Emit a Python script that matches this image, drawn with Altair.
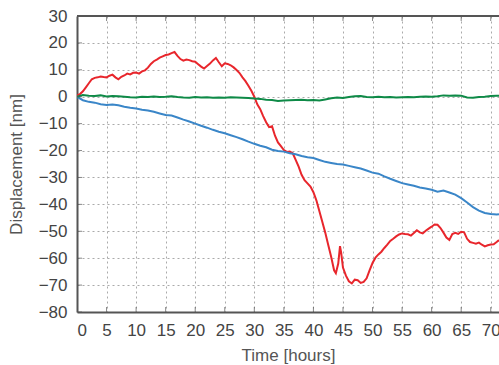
import altair as alt
import pandas as pd

red_t = [0, 0.5, 1, 1.5, 2, 2.5, 3, 3.5, 4, 4.5, 5, 5.5, 6, 6.5, 7, 7.5, 8, 8.5, 9, 9.5,
         10, 10.5, 11, 11.5, 12, 12.5, 13, 13.5, 14, 14.5, 15, 15.5, 16, 16.5, 17, 17.5, 18, 18.5, 19, 19.5,
         20, 20.5, 21, 21.5, 22, 22.5, 23, 23.5, 24, 24.5, 25, 25.5, 26, 26.5, 27, 27.5, 28, 28.5, 29, 29.5,
         30, 30.5, 31, 31.5, 32, 32.5, 33, 33.5, 34, 34.5, 35, 35.5, 36, 36.5, 37, 37.5, 38, 38.5, 39, 39.5,
         40, 40.5, 41, 41.5, 42, 42.5, 43, 43.5, 43.8, 44.2, 44.5, 44.7, 45, 45.5, 46, 46.5, 47, 47.5, 48, 48.5,
         49, 49.5, 50, 50.5, 51, 51.5, 52, 52.5, 53, 53.5, 54, 54.5, 55, 55.5, 56, 56.5, 57, 57.5, 58, 58.5,
         59, 59.5, 60, 60.5, 61, 61.5, 62, 62.5, 63, 63.5, 64, 64.5, 65, 65.5, 66, 66.5, 67, 67.5, 68, 68.5,
         69, 69.5, 70, 70.5, 71, 71.4]
red_v = [0.5, 1, 2, 3.5, 5, 6.5, 7, 7.2, 7.5, 7.3, 7.2, 7.8, 8.2, 7.2, 6.5, 7.4, 7.9, 8.6, 8.3, 8.9,
         9, 8.6, 9.4, 9.8, 10.8, 12.2, 13.2, 13.8, 14.5, 15, 15.5, 15.7, 16.2, 16.6, 15.2, 14, 13.4, 13.8, 13.6, 13.2,
         13, 12.1, 11.2, 10.5, 11.4, 12.3, 13.5, 14.4, 12.8, 11.3, 12.4, 12.2, 11.7, 10.9, 9.9, 8.8, 7.2, 5.8, 4.1, 2.2,
         0, -2.8, -4.6, -7.2, -9.5, -11.3, -11, -14.5, -17, -18.4, -19.8, -20.5, -20.4, -21, -23.5, -26, -29, -31, -32.2, -33.4,
         -35.5, -38.5, -42.5, -46.5, -50.5, -55, -59.5, -64.5, -65.6, -62, -55.5, -58, -63.5, -66.5, -68.6, -69.4, -68, -68.2, -69.2, -68.8,
         -67.5, -64.5, -61.8, -59.8, -58.6, -57.6, -56.2, -55, -53.6, -52.8, -51.9, -51.2, -50.8, -51, -51.1, -51.6, -50.6, -49.6, -50.4, -50.8,
         -49.8, -49, -48.3, -47.5, -47.6, -48.8, -50.5, -52.3, -53.2, -51, -50.6, -51, -50.2, -50.4, -52.8, -54, -54.3, -54.6, -54.2, -55,
         -55.6, -55.2, -54.9, -54.8, -54, -53.3]

blue_t = list(range(0, 72)) + [71.4]
blue_v = [0, -1.3, -1.9, -2.2, -2.8, -3.1, -2.9, -3.2, -3.7, -4.1,
          -4.4, -4.8, -5.1, -5.6, -6.2, -6.8, -7, -7.7, -8.5, -9.2,
          -10, -10.8, -11.5, -12.3, -13, -13.6, -14.3, -15, -15.8, -16.7,
          -17.5, -18.2, -18.8, -19.7, -20.2, -20.4, -21, -21.4, -22, -22.5,
          -22.8, -23.5, -24.2, -24.6, -25, -25.2, -25.7, -26.2, -26.7, -27.4,
          -28.2, -28.6, -29.6, -30.5, -31.3, -32.1, -32.6, -33.1, -33.7, -34.1,
          -34.6, -35.3, -34.9, -35.6, -36.4, -37.7, -39.3, -41, -42.3, -43.2,
          -43.6, -43.8, -43.7]

green_t = list(range(0, 72)) + [71.4]
green_v = [0, 0.6, 0.4, 0.3, 0.5, 0.1, 0.3, 0.2, 0, -0.2,
           -0.3, 0, -0.1, 0.1, -0.1, 0, 0.2, -0.1, -0.3, -0.4,
           -0.1, -0.3, -0.2, -0.4, -0.3, -0.4, -0.2, -0.3, -0.4, -0.5,
           -0.7, -0.8, -1.1, -1.2, -1.6, -1.4, -1.3, -1.2, -1.1, -1.3,
           -1.2, -1.4, -1, -0.6, -0.3, -0.5, -0.1, 0.2, 0.3, -0.1,
           -0.2, 0, -0.2, -0.1, -0.3, -0.2, -0.1, -0.2, 0, 0.1,
           0, 0.2, 0.5, 0.4, 0.5, 0.4, -0.3, -0.4, -0.1, 0,
           0.3, 0.4, 0.4]

x_ticks = list(range(0, 75, 5))
y_ticks = list(range(-80, 40, 10))

rows = []
for name, ts, vs in [("red", red_t, red_v), ("blue", blue_t, blue_v), ("green", green_t, green_v)]:
    for t, v in zip(ts, vs):
        rows.append({"series": name, "t": t, "v": v})
df = pd.DataFrame(rows)

FONT = "Liberation Sans"
xs = alt.Scale(domain=[0, 71.4], nice=False, zero=False)
ys = alt.Scale(domain=[-80, 30], nice=False, zero=False)

common = dict(grid=True, gridDash=[2, 3], gridColor="#aaaaaa", tickSize=0,
              domainColor="#555555", domainWidth=2,
              labelFont=FONT, titleFont=FONT, labelFontSize=17, titleFontSize=17,
              labelColor="#444444", titleColor="#555555", titleFontWeight="normal")
XAX = alt.Axis(values=x_ticks, labelPadding=10, titlePadding=9, **common)
YAX = alt.Axis(values=y_ticks, labelPadding=10, titlePadding=13, **common)
XT = "Time [hours]"
YT = "Displacement [nm]"

lines = alt.Chart(df).mark_line(strokeWidth=2, clip=True).encode(
    x=alt.X("t:Q", scale=xs, title=XT, axis=XAX),
    y=alt.Y("v:Q", scale=ys, title=YT, axis=YAX),
    color=alt.Color("series:N",
                    scale=alt.Scale(domain=["red", "blue", "green"],
                                    range=["#e8262c", "#3a86c8", "#0e8a47"]),
                    legend=None),
    detail="series:N",
)

top_border = alt.Chart(pd.DataFrame({"y": [30]})).mark_rule(color="#555555", strokeWidth=2).encode(
    y=alt.Y("y:Q", scale=ys, title=YT, axis=YAX)
)

xt = pd.DataFrame({"x": x_ticks, "yb": [-80] * len(x_ticks), "yt": [30] * len(x_ticks)})
bottom_ticks = alt.Chart(xt).mark_tick(orient="vertical", size=10, thickness=1, color="#555555", clip=True).encode(
    x=alt.X("x:Q", scale=xs, title=XT, axis=XAX), y=alt.Y("yb:Q", scale=ys, title=YT, axis=YAX)
)
top_ticks = alt.Chart(xt).mark_tick(orient="vertical", size=10, thickness=1, color="#555555", clip=True).encode(
    x=alt.X("x:Q", scale=xs, title=XT, axis=XAX), y=alt.Y("yt:Q", scale=ys, title=YT, axis=YAX)
)
yt = pd.DataFrame({"y": y_ticks, "x0": [0] * len(y_ticks)})
left_ticks = alt.Chart(yt).mark_tick(orient="horizontal", size=10, thickness=1, color="#555555", clip=True).encode(
    y=alt.Y("y:Q", scale=ys, title=YT, axis=YAX), x=alt.X("x0:Q", scale=xs, title=XT, axis=XAX)
)

chart = alt.layer(lines, top_border, bottom_ticks, top_ticks, left_ticks).properties(
    width=422, height=296,
    autosize=alt.AutoSizeParams(type="none"),
    padding={"left": 77, "top": 16, "right": 0, "bottom": 53},
).configure_view(stroke=None)

chart.save("out.html", embed_options={"renderer": "svg", "actions": False})
